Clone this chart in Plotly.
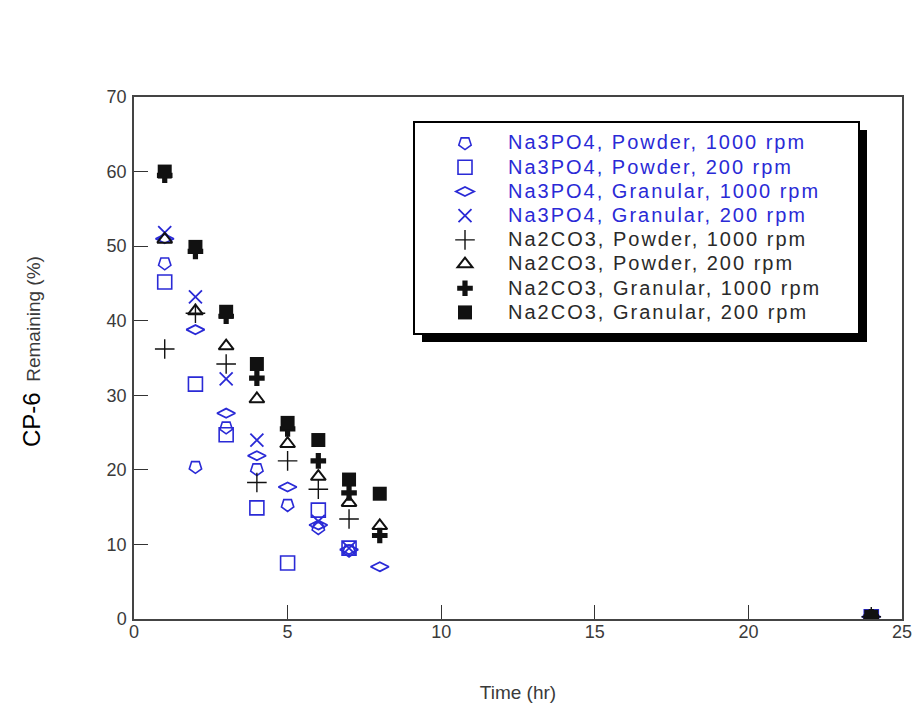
import plotly.graph_objects as go

BLUE = "#2a2ad6"
BLACK = "#111111"

series_names = [
    "Na3PO4, Powder, 1000 rpm",
    "Na3PO4, Powder, 200 rpm",
    "Na3PO4, Granular, 1000 rpm",
    "Na3PO4, Granular, 200 rpm",
    "Na2CO3, Powder, 1000 rpm",
    "Na2CO3, Powder, 200 rpm",
    "Na2CO3, Granular, 1000 rpm",
    "Na2CO3, Granular, 200 rpm",
]

p_pow_1000_x = [1, 2, 3, 4, 5, 6, 7, 24]
p_pow_1000_y = [47.7, 20.4, 25.7, 20.1, 15.3, 12.2, 9.2, 0.3]

p_pow_200_x = [1, 2, 3, 4, 5, 6, 7, 24]
p_pow_200_y = [45.2, 31.5, 24.7, 14.9, 7.5, 14.6, 9.5, 0.3]

p_gran_1000_x = [1, 2, 3, 4, 5, 6, 7, 8, 24]
p_gran_1000_y = [51.0, 38.8, 27.6, 21.9, 17.7, 12.6, 9.3, 7.0, 0.3]

p_gran_200_x = [1, 2, 3, 4, 6, 7, 24]
p_gran_200_y = [51.8, 43.2, 32.2, 24.0, 13.1, 9.5, 0.3]

c_pow_1000_x = [1, 2, 3, 4, 5, 6, 7, 24]
c_pow_1000_y = [36.2, 41.0, 34.2, 18.3, 21.2, 17.4, 13.4, 0.3]

c_pow_200_x = [1, 2, 3, 4, 5, 6, 7, 8, 24]
c_pow_200_y = [50.9, 41.3, 36.6, 29.5, 23.5, 19.1, 15.6, 12.5, 0.3]

c_gran_1000_x = [1, 2, 3, 4, 5, 6, 7, 8, 24]
c_gran_1000_y = [59.5, 49.3, 40.6, 32.3, 25.5, 21.2, 16.9, 11.2, 0.3]

c_gran_200_x = [1, 2, 3, 4, 5, 6, 7, 8, 24]
c_gran_200_y = [60.0, 49.9, 41.2, 34.2, 26.3, 24.0, 18.7, 16.8, 0.3]

x_ticks = [0, 5, 10, 15, 20, 25]
y_ticks = [0, 10, 20, 30, 40, 50, 60, 70]

data = [
    (p_pow_1000_x, p_pow_1000_y, dict(symbol="pentagon-open", angle=180, size=13, color=BLUE, line=dict(width=1.6, color=BLUE)), BLUE),
    (p_pow_200_x, p_pow_200_y, dict(symbol="square-open", size=14, color=BLUE, line=dict(width=1.6, color=BLUE)), BLUE),
    (p_gran_1000_x, p_gran_1000_y, dict(symbol="diamond-wide-open", size=13, color=BLUE, line=dict(width=1.8, color=BLUE)), BLUE),
    (p_gran_200_x, p_gran_200_y, dict(symbol="x-thin-open", size=13, color=BLUE, line=dict(width=1.8, color=BLUE)), BLUE),
    (c_pow_1000_x, c_pow_1000_y, dict(symbol="cross-thin-open", size=14, color=BLACK, line=dict(width=1.4, color=BLACK)), "#2a2a2a"),
    (c_pow_200_x, c_pow_200_y, dict(symbol="triangle-up-open", size=13, color=BLACK, line=dict(width=2, color="#222222")), "#2a2a2a"),
    (c_gran_1000_x, c_gran_1000_y, dict(symbol="cross", size=13, color=BLACK, line=dict(width=0)), "#2a2a2a"),
    (c_gran_200_x, c_gran_200_y, dict(symbol="square", size=14, color=BLACK, line=dict(width=0)), "#2a2a2a"),
]

fig = go.Figure()
for name, (xs, ys, mk, tcol) in zip(series_names, data):
    fig.add_trace(go.Scatter(
        x=xs, y=ys, mode="markers", marker=mk,
        name=f"<span style='color:{tcol};font-size:20px;letter-spacing:2px'>{name}</span>",
    ))

# legend box with drop shadow (pixel-based paper coords)
L, R, T, B = 134, 902, 97, 619
W, H = R - L, B - T
def px(xp):
    return (xp - L) / W
def py(yp):
    return (B - yp) / H

fig.add_shape(type="rect", xref="paper", yref="paper",
              x0=px(422), x1=px(867), y0=py(342), y1=py(130),
              fillcolor="black", line=dict(width=0), layer="below")
fig.add_shape(type="rect", xref="paper", yref="paper",
              x0=px(414), x1=px(859), y0=py(334), y1=py(122),
              fillcolor="white", line=dict(width=2, color="black"), layer="below")

fig.add_annotation(
    xref="paper", yref="paper", x=px(31), y=py(352),
    text="<span style='font-size:24px;color:black'>CP-6</span>  Remaining (%)",
    textangle=-90, showarrow=False, xanchor="center", yanchor="middle",
    font=dict(family="Liberation Sans, Arial", size=19, color="#3a3a3a"),
)

fig.update_layout(
    width=916, height=708,
    margin=dict(l=L, r=916 - R, t=T, b=708 - B, autoexpand=False),
    paper_bgcolor="white", plot_bgcolor="white",
    font=dict(family="Liberation Sans, Arial", size=18, color="#3a3a3a"),
    showlegend=True,
    legend=dict(
        x=px(422), y=py(126), xanchor="left", yanchor="top",
        bgcolor="rgba(0,0,0,0)", borderwidth=0,
        font=dict(size=16.3), itemwidth=76, tracegroupgap=0,
    ),
    xaxis=dict(
        range=[0, 25], tickvals=x_ticks, ticks="inside", ticklen=14, tickwidth=1.2,
        tickcolor="#333333", showline=True, linecolor="#444444", linewidth=1.5,
        mirror=True, showgrid=False, zeroline=False, automargin=False,
        tickfont=dict(size=18),
        title=dict(text="Time (hr)", font=dict(size=19, color="#3a3a3a"), standoff=44),
        ticklabelstandoff=-4,
    ),
    yaxis=dict(
        range=[0, 70], tickvals=y_ticks, ticks="inside", ticklen=14, tickwidth=1.2,
        tickcolor="#333333", showline=True, linecolor="#444444", linewidth=1.5,
        mirror=True, showgrid=False, zeroline=False, automargin=False,
        tickfont=dict(size=18),
        ticklabelstandoff=2,
    ),
)

fig.write_html("out.html", config={"displayModeBar": False},
               post_script="document.body.style.margin='0px';")
